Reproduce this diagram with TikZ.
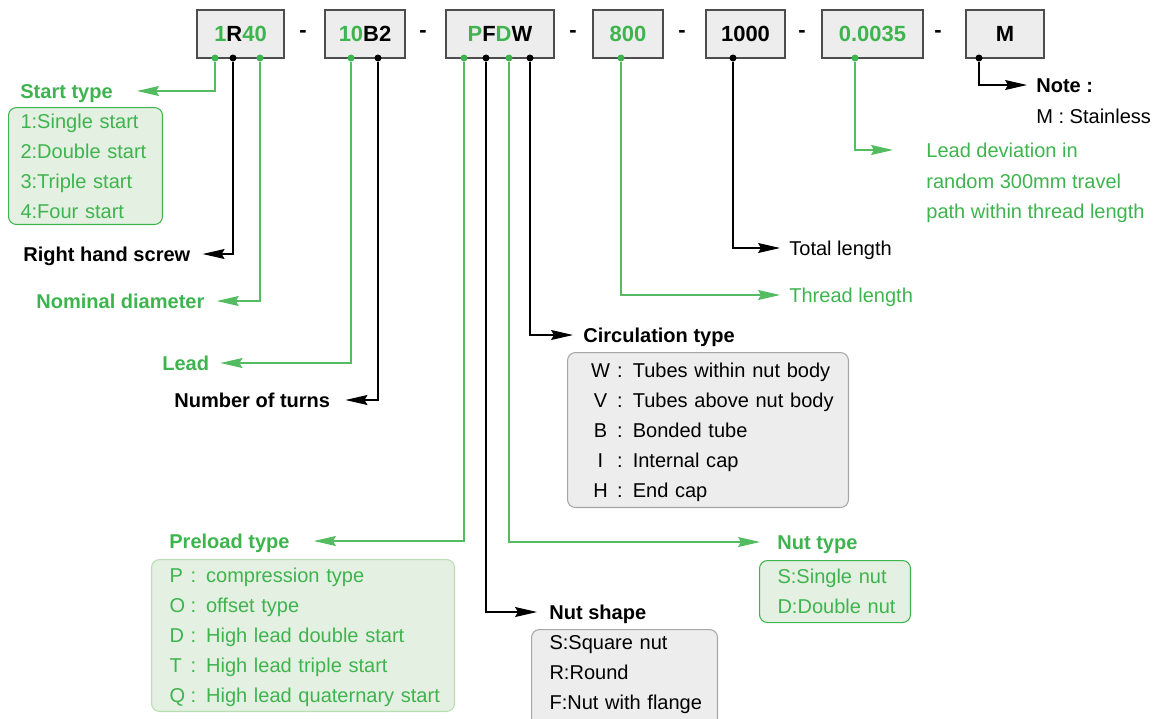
\documentclass[tikz,border=0pt]{standalone}
\usepackage{fontspec}
\setmainfont{Liberation Sans}
\usepackage{xcolor}
\usetikzlibrary{arrows.meta}

\definecolor{codegreen}{RGB}{62,180,78}
\definecolor{wiregreen}{RGB}{84,188,96}
\definecolor{greenfill}{RGB}{228,240,226}
\definecolor{palegreen}{RGB}{184,222,178}
\definecolor{greyfill}{RGB}{237,237,237}
\definecolor{greyline}{RGB}{166,166,166}
\definecolor{boxline}{RGB}{77,77,77}

\newcommand{\gc}[1]{\textcolor{codegreen}{#1}}
\newcommand{\circkey}[1]{\makebox[0.4cm][c]{#1}}
\newcommand{\prekey}[1]{\makebox[0.42cm][l]{#1}}
% rows of a list, boxed from the first cap line down to the last baseline
\newcommand{\itemrows}[1]{\raisebox{0pt}[\dimexpr\height-3.75pt\relax][0pt]{%
  \begin{tabular}[b]{@{}l@{}}#1\end{tabular}}}

\tikzset{
  codebox/.style={draw=boxline, fill=greyfill, line width=0.6pt, minimum height=0.96cm,
    inner sep=0, font=\fontsize{12.5}{15}\selectfont\bfseries},
  txt/.style={inner sep=0, anchor=west, text height=8.2pt, text depth=0pt,
    font=\fontsize{11.4}{17.07}\selectfont},
  head/.style={txt, font=\fontsize{11.4}{17.07}\selectfont\bfseries},
  listbox/.style={draw, rounded corners=0.16cm, anchor=north west, align=left,
    line width=0.6pt, inner ysep=0.06cm, font=\fontsize{11.4}{17.07}\selectfont},
  greenlist/.style={listbox, draw=codegreen, fill=greenfill, text=codegreen},
  greylist/.style={listbox, draw=greyline, fill=greyfill},
  gpin/.style={circle, fill=codegreen, inner sep=0, minimum size=0.14cm},
  kpin/.style={circle, fill=black, inner sep=0, minimum size=0.14cm},
  tip/.style={-{Stealth[length=0.44cm,width=0.2cm,inset=0.06cm]}},
  gwire/.style={draw=wiregreen, line width=0.6pt, tip},
  kwire/.style={draw=black, line width=0.6pt, tip}
}

\begin{document}
\begin{tikzpicture}[x=0.02cm, y=-0.02cm]
\useasboundingbox (0,0) rectangle (1159,718);
\clip (0,0) rectangle (1159,718);

% the order code
\node[codebox, minimum width=1.74cm] (code1) at (240.5,34) {\gc{1}R\gc{40}};
\node[codebox, minimum width=1.6cm] (code2) at (365,34) {\gc{10}B2};
\node[codebox, minimum width=2.16cm] (code3) at (500,34) {\gc{P}F\gc{D}W};
\node[codebox, minimum width=1.4cm] (code4) at (628,34) {\gc{800}};
\node[codebox, minimum width=1.58cm] (code5) at (745.5,34) {1000};
\node[codebox, minimum width=2.02cm] (code6) at (872.5,34) {\gc{0.0035}};
\node[codebox, minimum width=1.56cm] (code7) at (1005,34) {M};
\foreach \x [count=\i] in {303,423,573,682,802,938}
  \node[font=\fontsize{12.5}{15}\selectfont\bfseries] (dash\i) at (\x,34) {-};

% pins under the code
\node[gpin] (startpin) at (215,58) {};
\node[kpin] (handpin) at (233,58) {};
\node[gpin] (diapin) at (260,58) {};
\node[gpin] (leadpin) at (351,58) {};
\node[kpin] (turnpin) at (378,58) {};
\node[gpin] (preloadpin) at (464,58) {};
\node[kpin] (shapepin) at (486,58) {};
\node[gpin] (nutpin) at (509,58) {};
\node[kpin] (circpin) at (530,58) {};
\node[gpin] (threadpin) at (621,58) {};
\node[kpin] (totalpin) at (733,58) {};
\node[gpin] (devpin) at (855,58) {};
\node[kpin] (notepin) at (979,58) {};

% left side
\node[head, text=codegreen] (starttype) at (20,91) {Start type};
\node[greenlist, inner xsep=0.24cm, text width=2.6cm, minimum height=2.34cm] (startlist) at (8,107)
  {\itemrows{1:Single start\\2:Double start\\3:Triple start\\4:Four start}};
\node[head] (hand) at (23,254) {Right hand screw};
\node[head, text=codegreen] (diameter) at (36,301) {Nominal diameter};
\node[head, text=codegreen] (lead) at (162,363) {Lead};
\node[head] (turns) at (174,400) {Number of turns};

% nut
\node[head, text=codegreen] (preload) at (169,541) {Preload type};
\node[greenlist, draw=palegreen, inner xsep=0.36cm, text width=5.34cm, minimum height=3.04cm] (preloadlist) at (151,559)
  {\itemrows{\prekey{P}: compression type\\\prekey{O}: offset type\\\prekey{D}: High lead double start\\
   \prekey{T}: High lead triple start\\\prekey{Q}: High lead quaternary start}};
\node[head] (nutshape) at (549,612) {Nut shape};
\node[greylist, inner xsep=0.36cm, inner ysep=0.12cm, text width=3.0cm] (shapelist) at (531,629)
  {\itemrows{S:Square nut\\R:Round\\F:Nut with flange\\ ~}};
\node[head, text=codegreen] (nuttype) at (777,542) {Nut type};
\node[greenlist, inner xsep=0.36cm, text width=2.3cm, minimum height=1.24cm] (nutlist) at (759,560)
  {\itemrows{S:Single nut\\D:Double nut}};
\node[head] (circulation) at (583,335) {Circulation type};
\node[greylist, inner xsep=0.46cm, text width=4.7cm, minimum height=3.1cm] (circlist) at (567,352)
  {\itemrows{\circkey{W} : Tubes within nut body\\\circkey{V} : Tubes above nut body\\\circkey{B} : Bonded tube\\
   \circkey{I} : Internal cap\\\circkey{H} : End cap}};

% right side
\node[txt, text=codegreen] (thread) at (789,295) {Thread length};
\node[txt] (total) at (789,248) {Total length};
\node[txt, text=codegreen] (dev1) at (926,150) {Lead deviation in};
\node[txt, text=codegreen] (dev2) at (926,181) {random 300mm travel};
\node[txt, text=codegreen] (dev3) at (926,211) {path within thread length};
\node[head] (note) at (1036,85) {Note :};
\node[txt] (stainless) at (1036,116) {M : Stainless};

% wires
\draw[gwire, shorten >=0.48cm] (startpin) |- (starttype);
\draw[kwire, shorten >=0.24cm] (handpin) |- (hand);
\draw[gwire, shorten >=0.24cm] (diapin) |- (diameter);
\draw[gwire, shorten >=0.22cm] (leadpin) |- (lead);
\draw[kwire, shorten >=0.3cm] (turnpin) |- (turns);
\draw[gwire, shorten >=0.48cm] (preloadpin) |- (preload);
\draw[kwire, shorten >=0.24cm] (shapepin) |- (nutshape);
\draw[gwire, shorten >=0.34cm] (nutpin) |- (nuttype);
\draw[kwire, shorten >=0.2cm] (circpin) |- (circulation);
\draw[gwire, shorten >=0.18cm] (threadpin) |- (thread);
\draw[kwire, shorten >=0.18cm] (totalpin) |- (total);
\draw[gwire, shorten >=0.66cm] (devpin) |- (dev1);
\draw[kwire, shorten >=0.18cm] (notepin) |- (note);
\end{tikzpicture}
\end{document}
